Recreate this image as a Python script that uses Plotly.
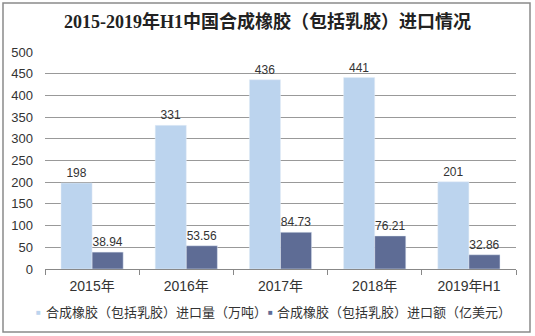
import plotly.graph_objects as go

categories = ["2015年", "2016年", "2017年", "2018年", "2019年H1"]
volume = [198, 331, 436, 441, 201]
value = [38.94, 53.56, 84.73, 76.21, 32.86]
volume_labels = ["198", "331", "436", "441", "201"]
value_labels = ["38.94", "53.56", "84.73", "76.21", "32.86"]
y_ticks = [0, 50, 100, 150, 200, 250, 300, 350, 400, 450, 500]

title = "2015-2019年H1中国合成橡胶（包括乳胶）进口情况"
name1 = "合成橡胶（包括乳胶）进口量（万吨）"
name2 = "合成橡胶（包括乳胶）进口额（亿美元）"
color1 = "#BCD4EE"
color2 = "#5E6C95"

cjk = "Liberation Sans, Noto Sans CJK SC, sans-serif"

fig = go.Figure()
fig.add_trace(go.Bar(
    x=categories, y=volume, name=name1, marker_color=color1,
    text=volume_labels, textposition="outside", cliponaxis=False,
    textfont=dict(size=12, color="#333333", family=cjk),
))
fig.add_trace(go.Bar(
    x=categories, y=value, name=name2, marker_color=color2,
    text=value_labels, textposition="outside", cliponaxis=False,
    textfont=dict(size=12, color="#333333", family=cjk),
))

L, R, T, B = 45, 19, 52, 67
W, H = 535, 336
pw, ph = W - L - R, H - T - B

def px(x):
    return (x - L) / pw

def py(y):
    return (H - B - y) / ph

legend_y = py(312)
annotations = []
for sx, tx, color, name in [(38, 44, color1, name1), (270, 275, color2, name2)]:
    annotations.append(dict(xref="paper", yref="paper", x=px(sx), y=legend_y,
                            xanchor="center", yanchor="middle", showarrow=False,
                            text="■", font=dict(size=8, color=color)))
    annotations.append(dict(xref="paper", yref="paper", x=px(tx), y=legend_y,
                            xanchor="left", yanchor="middle", showarrow=False,
                            text=name, font=dict(size=13, color="#333333", family=cjk)))

fig.update_layout(
    width=W, height=H,
    margin=dict(l=L, r=R, t=T, b=B, autoexpand=False),
    paper_bgcolor="white", plot_bgcolor="white",
    barmode="group", bargap=0.34, bargroupgap=0,
    font=dict(family=cjk, size=13, color="#333333"),
    title=dict(text="<b>" + title + "</b>", x=0.5, xanchor="center",
               y=1 - 22 / H, yanchor="middle",
               font=dict(family="Liberation Serif, Noto Sans CJK SC, serif", size=18, color="#222222")),
    showlegend=False,
    annotations=annotations,
    xaxis=dict(showline=True, linecolor="#888888", linewidth=1, automargin=False,
               ticks="outside", tickson="boundaries", ticklen=5, tickcolor="#888888",
               ticklabelstandoff=4,
               tickfont=dict(size=14, color="#333333")),
    yaxis=dict(range=[0, 500], tickvals=y_ticks, showgrid=True, gridcolor="#999999",
               gridwidth=1, zeroline=False, showline=False, automargin=False,
               ticks="", ticklabelstandoff=11,
               tickfont=dict(size=13, color="#333333")),
    shapes=[dict(type="rect", xref="paper", yref="paper",
                 x0=px(3), x1=px(530), y0=py(3), y1=py(332),
                 line=dict(color="#8a8a8a", width=1.5), layer="below")],
)

fig.write_html("out.html")
